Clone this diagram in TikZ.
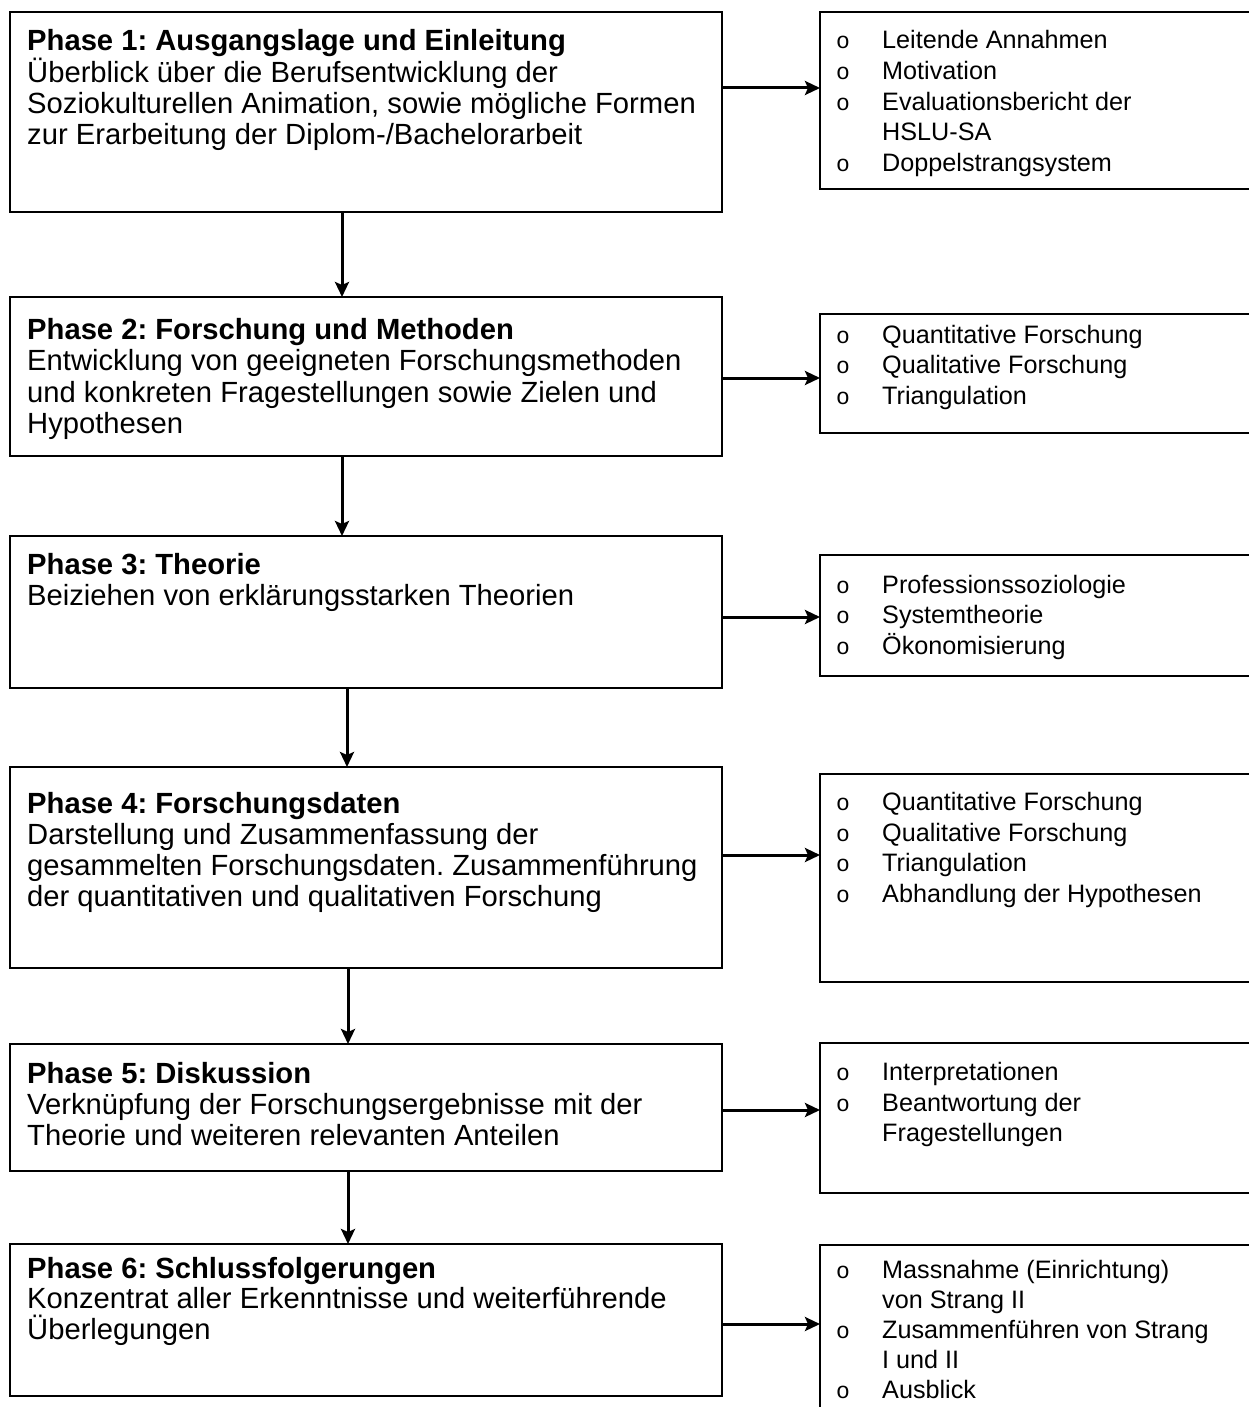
\documentclass[tikz,border=0pt]{standalone}
\usepackage{fontspec}
\setmainfont{Liberation Sans}
\newfontfamily\bulletfont{Liberation Mono}
\usetikzlibrary{arrows.meta}
\frenchspacing

\begin{document}
\begin{tikzpicture}[x=1pt,y=-1pt,
  phasebox/.style={draw, line width=2.4pt, inner sep=0pt, outer sep=0pt, anchor=north west, minimum width=712pt},
  listbox/.style={draw, line width=2.4pt, inner sep=0pt, outer sep=0pt, anchor=north west, minimum width=442pt},
  ln/.style={anchor=base west, inner sep=0pt, font=\fontsize{29.2}{31}\selectfont},
  hd/.style={ln, font=\fontsize{29.2}{31}\selectfont\bfseries},
  li/.style={anchor=base west, inner sep=0pt, font=\fontsize{25.2}{30}\selectfont},
  bul/.style={anchor=base, inner sep=0pt, font=\fontsize{23}{30}\bulletfont},
  flow/.style={line width=3pt, -{Stealth[length=15pt,width=14pt,inset=3pt]}}]

\useasboundingbox[fill=white] (0,0) rectangle (1248,1407);

% phase boxes
\node[phasebox, minimum height=200pt] (b1) at (10,12) {};
\node[phasebox, minimum height=159pt] (b2) at (10,297) {};
\node[phasebox, minimum height=152pt] (b3) at (10,536) {};
\node[phasebox, minimum height=201pt] (b4) at (10,767) {};
\node[phasebox, minimum height=127pt] (b5) at (10,1044) {};
\node[phasebox, minimum height=152pt] (b6) at (10,1244) {};

% detail boxes (running past the right edge)
\node[listbox, minimum height=177pt] (r1) at (820,12) {};
\node[listbox, minimum height=119pt] (r2) at (820,314) {};
\node[listbox, minimum height=121pt] (r3) at (820,555) {};
\node[listbox, minimum height=208pt] (r4) at (820,774) {};
\node[listbox, minimum height=150pt] (r5) at (820,1043) {};
\node[listbox, minimum height=180pt] (r6) at (820,1245) {};

% phase texts
\node[hd] (t1a) at (27,51) {Phase 1: Ausgangslage und Einleitung};
\node[ln] (t1b) at (27,82.5) {Überblick über die Berufsentwicklung der};
\node[ln] (t1c) at (27,113.5) {Soziokulturellen Animation, sowie mögliche Formen};
\node[ln] (t1d) at (27,145) {zur Erarbeitung der Diplom-/Bachelorarbeit};

\node[hd] (t2a) at (27,339) {Phase 2: Forschung und Methoden};
\node[ln] (t2b) at (27,370.5) {Entwicklung von geeigneten Forschungsmethoden};
\node[ln] (t2c) at (27,402) {und konkreten Fragestellungen sowie Zielen und};
\node[ln] (t2d) at (27,433) {Hypothesen};

\node[hd] (t3a) at (27,574) {Phase 3: Theorie};
\node[ln] (t3b) at (27,605.5) {Beiziehen von erklärungsstarken Theorien};

\node[hd] (t4a) at (27,813) {Phase 4: Forschungsdaten};
\node[ln] (t4b) at (27,844) {Darstellung und Zusammenfassung der};
\node[ln] (t4c) at (27,875) {gesammelten Forschungsdaten. Zusammenführung};
\node[ln] (t4d) at (27,906) {der quantitativen und qualitativen Forschung};

\node[hd] (t5a) at (27,1083) {Phase 5: Diskussion};
\node[ln] (t5b) at (27,1114) {Verknüpfung der Forschungsergebnisse mit der};
\node[ln] (t5c) at (27,1145) {Theorie und weiteren relevanten Anteilen};

\node[hd] (t6a) at (27,1278) {Phase 6: Schlussfolgerungen};
\node[ln] (t6b) at (27,1308.5) {Konzentrat aller Erkenntnisse und weiterführende};
\node[ln] (t6c) at (27,1339.5) {Überlegungen};

% detail lists
\node[bul] (o1a) at (843,49) {o}; \node[li] (l1a) at (882,49) {Leitende Annahmen};
\node[bul] (o1b) at (843,80) {o}; \node[li] (l1b) at (882,80) {Motivation};
\node[bul] (o1c) at (843,111) {o}; \node[li] (l1c) at (882,111) {Evaluationsbericht der};
\node[li] (l1d) at (882,141) {HSLU-SA};
\node[bul] (o1e) at (843,171.5) {o}; \node[li] (l1e) at (882,171.5) {Doppelstrangsystem};

\node[bul] (o2a) at (843,343) {o}; \node[li] (l2a) at (882,343) {Quantitative Forschung};
\node[bul] (o2b) at (843,373.5) {o}; \node[li] (l2b) at (882,373.5) {Qualitative Forschung};
\node[bul] (o2c) at (843,404) {o}; \node[li] (l2c) at (882,404) {Triangulation};

\node[bul] (o3a) at (843,593) {o}; \node[li] (l3a) at (882,593) {Professionssoziologie};
\node[bul] (o3b) at (843,623.5) {o}; \node[li] (l3b) at (882,623.5) {Systemtheorie};
\node[bul] (o3c) at (843,654) {o}; \node[li] (l3c) at (882,654) {Ökonomisierung};

\node[bul] (o4a) at (843,810.5) {o}; \node[li] (l4a) at (882,810.5) {Quantitative Forschung};
\node[bul] (o4b) at (843,841) {o}; \node[li] (l4b) at (882,841) {Qualitative Forschung};
\node[bul] (o4c) at (843,871.5) {o}; \node[li] (l4c) at (882,871.5) {Triangulation};
\node[bul] (o4d) at (843,902) {o}; \node[li] (l4d) at (882,902) {Abhandlung der Hypothesen};

\node[bul] (o5a) at (843,1080.5) {o}; \node[li] (l5a) at (882,1080.5) {Interpretationen};
\node[bul] (o5b) at (843,1111) {o}; \node[li] (l5b) at (882,1111) {Beantwortung der};
\node[li] (l5c) at (882,1141) {Fragestellungen};

\node[bul] (o6a) at (843,1278.5) {o}; \node[li] (l6a) at (882,1278.5) {Massnahme (Einrichtung)};
\node[li] (l6b) at (882,1308.5) {von Strang II};
\node[bul] (o6c) at (843,1338.5) {o}; \node[li] (l6c) at (882,1338.5) {Zusammenführen von Strang};
\node[li] (l6d) at (882,1368.5) {I und II};
\node[bul] (o6e) at (843,1398) {o}; \node[li] (l6e) at (882,1398) {Ausblick};

% flow between phases
\draw[flow] (b1.south -| 342,0) -- (b2.north -| 342,0);
\draw[flow] (b2.south -| 342,0) -- (b3.north -| 342,0);
\draw[flow] (b3.south -| 347,0) -- (b4.north -| 347,0);
\draw[flow] (b4.south -| 348,0) -- (b5.north -| 348,0);
\draw[flow] (b5.south -| 348,0) -- (b6.north -| 348,0);

% links to detail lists
\draw[flow] (b1.east |- 0,88) -- (r1.west |- 0,88);
\draw[flow] (b2.east |- 0,378) -- (r2.west |- 0,378);
\draw[flow] (b3.east |- 0,617) -- (r3.west |- 0,617);
\draw[flow] (b4.east |- 0,855) -- (r4.west |- 0,855);
\draw[flow] (b5.east |- 0,1110) -- (r5.west |- 0,1110);
\draw[flow] (b6.east |- 0,1324) -- (r6.west |- 0,1324);
\end{tikzpicture}
\end{document}
